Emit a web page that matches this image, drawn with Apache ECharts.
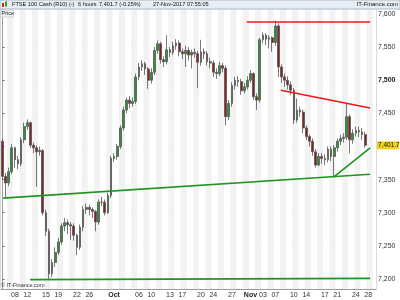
<!DOCTYPE html>
<html><head><meta charset="utf-8">
<script src="https://cdn.jsdelivr.net/npm/echarts@6/dist/echarts.min.js"></script>
<style>html,body{margin:0;padding:0;background:#fff}#c{width:400px;height:300px}</style>
</head><body><div id="c"></div>
<script>
// Trading days shown (two 6-hour bars per day)
const tradingDays = ['09-06','09-07','09-08','09-11','09-12','09-13','09-14','09-15','09-18','09-19','09-20','09-21','09-22','09-25','09-26','09-27','09-28','09-29',
'10-02','10-03','10-04','10-05','10-06','10-09','10-10','10-11','10-12','10-13','10-16','10-17','10-18','10-19','10-20','10-23','10-24','10-25','10-26','10-27','10-30','10-31',
'11-01','11-02','11-03','11-06','11-07','11-08','11-09','11-10','11-13','11-14','11-15','11-16','11-17','11-20','11-21','11-22','11-23','11-24','11-27','11-28'];
const labelDays = ['09-08','09-12','09-15','09-19','09-22','09-26','10-02','10-06','10-10','10-13','10-17','10-20','10-24','10-27','11-01','11-03','11-07','11-10','11-14','11-17','11-21','11-24','11-28'];
const labelTexts = ['08','12','15','19','22','26','Oct','06','10','13','17','20','24','27','Nov','03','07','10','14','17','21','24','28'];
const yTicks = [7200,7250,7300,7350,7400,7450,7500,7550,7600];
// [open, close, low, high]
const ohlc = [
[7408,7355,7350,7412],[7355,7345,7322,7360],[7345,7362,7340,7368],[7362,7398,7358,7404],[7398,7380,7368,7400],
[7380,7374,7366,7386],[7374,7410,7370,7414],[7410,7430,7405,7436],[7430,7436,7425,7441],[7436,7402,7398,7438],
[7402,7398,7390,7406],[7398,7392,7339,7402],[7392,7394,7386,7400],[7394,7300,7296,7396],[7300,7272,7265,7305],
[7272,7208,7198,7276],[7208,7225,7203,7230],[7225,7240,7218,7248],[7240,7256,7236,7262],[7256,7280,7252,7284],
[7280,7285,7272,7292],[7285,7282,7268,7290],[7282,7280,7259,7286],[7280,7266,7258,7284],[7266,7248,7236,7268],
[7248,7278,7244,7282],[7278,7305,7272,7310],[7305,7308,7298,7314],[7308,7305,7296,7312],[7305,7302,7292,7308],
[7302,7286,7272,7304],[7286,7316,7282,7320],[7316,7316,7310,7324],[7316,7300,7296,7320],[7300,7326,7298,7330],
[7326,7382,7322,7386],[7382,7385,7377,7390],[7385,7400,7380,7404],[7400,7428,7396,7432],[7428,7455,7424,7460],
[7455,7470,7450,7474],[7470,7465,7458,7476],[7465,7468,7460,7474],[7468,7505,7464,7510],[7505,7520,7500,7526],
[7520,7525,7514,7530],[7525,7517,7508,7528],[7517,7500,7487,7520],[7500,7512,7495,7518],[7512,7545,7508,7550],
[7545,7555,7540,7560],[7555,7531,7525,7558],[7531,7528,7520,7536],[7528,7546,7524,7568],[7546,7542,7535,7550],
[7542,7552,7538,7558],[7552,7556,7546,7562],[7556,7543,7536,7560],[7543,7540,7532,7548],[7540,7545,7520,7552],
[7545,7538,7530,7550],[7538,7542,7518,7546],[7542,7540,7534,7548],[7540,7527,7488,7544],[7527,7543,7522,7561],
[7543,7540,7532,7548],[7540,7528,7522,7544],[7528,7526,7518,7534],[7526,7512,7505,7530],[7512,7510,7502,7518],
[7510,7522,7506,7528],[7522,7518,7512,7526],[7518,7445,7432,7522],[7445,7465,7440,7470],[7465,7492,7460,7497],
[7492,7500,7486,7505],[7500,7498,7490,7506],[7498,7484,7478,7502],[7484,7490,7480,7496],[7490,7500,7486,7506],
[7500,7510,7496,7515],[7510,7475,7470,7512],[7475,7470,7455,7480],[7470,7561,7466,7564],[7561,7568,7556,7572],
[7568,7562,7553,7571],[7562,7564,7548,7568],[7564,7557,7543,7566],[7557,7582,7552,7590],[7582,7520,7505,7586],
[7520,7505,7496,7524],[7505,7500,7490,7510],[7500,7493,7486,7506],[7493,7485,7478,7498],[7485,7440,7434,7488],
[7440,7455,7436,7472],[7455,7452,7445,7460],[7452,7428,7420,7456],[7428,7415,7410,7432],[7415,7408,7400,7418],
[7408,7392,7386,7412],[7392,7372,7368,7396],[7372,7385,7370,7390],[7385,7382,7374,7390],[7382,7380,7372,7388],
[7380,7396,7376,7400],[7396,7385,7378,7400],[7385,7398,7355,7402],[7398,7408,7392,7412],[7408,7412,7402,7418],
[7412,7414,7406,7420],[7414,7445,7410,7466],[7445,7410,7390,7448],[7410,7420,7404,7426],[7420,7424,7415,7430],
[7424,7422,7414,7430],[7422,7418,7410,7428],[7418,7401.7,7398,7422]
];
const lastPrice = 7401.7;
// trend lines: [barPosition, price]
const redTop = [[78.8,7588],[118.6,7588]];
const redDown = [[89.8,7485],[118.6,7458]];
const greenLong = [[0.2,7322],[118.6,7358]];
const greenUp = [[106.9,7354],[118.6,7398]];
const greenBottom = [[8.9,7199],[118.6,7201]];

const categories = [];
tradingDays.forEach(d => { categories.push(d + ' a'); categories.push(d + ' b'); });
categories.push('pad');
const labelMap = {};
labelDays.forEach((d, i) => { labelMap[d + ' a'] = labelTexts[i]; });

const fmt = v => v.toLocaleString('en-US');
const chart = echarts.init(document.getElementById('c'), null, {renderer: 'canvas'});
const F = 'Liberation Sans, Arial, sans-serif';
const trend = (data, color, w) => ({
  type: 'line', xAxisIndex: 1, data: data, symbol: 'none', silent: true,
  lineStyle: {color: color, width: w}, z: 5, animation: false
});
const hdr = (x, t) => ({type: 'text', x: x, y: 4.8, style: {text: t, fontSize: 5.6, fontFamily: F, fill: '#111', verticalAlign: 'middle'}, z: 101});
chart.setOption({
  animation: false,
  backgroundColor: '#fff',
  grid: {left: 1, right: 24, top: 9, bottom: 11, show: true, borderColor: '#b5b5b5', borderWidth: 1, backgroundColor: '#fff'},
  xAxis: [{
    type: 'category', data: categories, boundaryGap: true,
    axisLine: {show: true, lineStyle: {color: '#9a9a9a'}},
    axisTick: {show: false},
    axisLabel: {
      interval: (i, v) => labelMap[v] !== undefined,
      formatter: v => { const t = labelMap[v]; if (t === undefined) return ''; return (t === 'Oct' || t === 'Nov') ? '{b|' + t + '}' : t; },
      fontSize: 7, color: '#333', margin: 3, fontFamily: F,
      rich: {b: {fontWeight: 'bold', fontSize: 7, color: '#222', fontFamily: F}}
    },
    splitLine: {show: false},
    splitArea: {show: true, interval: 1, areaStyle: {color: ['#ffffff', '#f2f2f2']}}
  }, {
    type: 'value', min: -0.5, max: 120.5, show: false
  }],
  yAxis: {
    type: 'value', position: 'right', min: 7184.9, max: 7607.5,
    minInterval: 50, maxInterval: 50, scale: true,
    axisLine: {show: true, lineStyle: {color: '#9a9a9a'}},
    axisTick: {show: true, length: 2, lineStyle: {color: '#666'}},
    axisLabel: {
      fontSize: 7, color: '#333', margin: 2, fontFamily: F,
      showMinLabel: false, showMaxLabel: false,
      formatter: v => { if (yTicks.indexOf(v) < 0 || v === 7400) return ''; return v === 7500 ? '{b|' + fmt(v) + '}' : fmt(v); },
      rich: {b: {fontWeight: 'bold', fontSize: 7, color: '#222', fontFamily: F}}
    },
    splitLine: {show: true, lineStyle: {color: '#e2e2e2', width: 1}}
  },
  series: [{
    type: 'candlestick', data: ohlc, barWidth: 2.2,
    itemStyle: {color: '#2f942f', color0: '#8e1f1f', borderColor: '#555', borderColor0: '#555', borderWidth: 0.8}
  },
  trend(redTop, '#f01818', 1.5),
  trend(redDown, '#f01818', 1.5),
  trend(greenLong, '#1f951f', 1.6),
  trend(greenUp, '#1f951f', 1.6),
  trend(greenBottom, '#1f951f', 1.6)
  ]
});
const py = chart.convertToPixel({yAxisIndex: 0}, lastPrice);
chart.setOption({
  graphic: [
    {type: 'rect', shape: {x: 0, y: 0, width: 400, height: 9}, style: {fill: '#e7edf4', stroke: '#aeb8c4', lineWidth: 1}, z: 100},
    {type: 'rect', shape: {x: 2, y: 3, width: 2, height: 4}, style: {fill: '#d22'}, z: 101},
    {type: 'rect', shape: {x: 5, y: 1.5, width: 2, height: 5}, style: {fill: '#2a2'}, z: 101},
    hdr(12, 'FTSE 100 Cash (R10) (-)'),
    hdr(78, '6 hours'),
    hdr(99, '7,401.7 (-0.25%)'),
    hdr(153, '27-Nov-2017 07:55:05'),
    {type: 'text', right: 2, y: 4.8, style: {text: 'IT-Finance.com', fontSize: 6, fontFamily: F, fill: '#111', verticalAlign: 'middle'}, z: 101},
    {type: 'rect', shape: {x: 0.5, y: 10, width: 13, height: 7}, style: {fill: '#eef1f5', stroke: '#b8c0ca', lineWidth: 0.6}, z: 101},
    {type: 'text', x: 1.5, y: 13.7, style: {text: 'Price', fontSize: 5.5, fontFamily: F, fill: '#222', verticalAlign: 'middle'}, z: 102},
    {type: 'text', x: 1, y: 285.5, style: {text: '© IT-Finance.com', fontSize: 5.5, fontFamily: F, fill: '#333', verticalAlign: 'middle'}, z: 101},
    {type: 'rect', shape: {x: 377, y: py - 4, width: 22, height: 8}, style: {fill: '#f3d21a'}, z: 110},
    {type: 'text', x: 378, y: py + 0.3, style: {text: fmt(lastPrice), fontSize: 6.5, fontFamily: F, fill: '#111', verticalAlign: 'middle'}, z: 111}
  ]
});
</script></body></html>
